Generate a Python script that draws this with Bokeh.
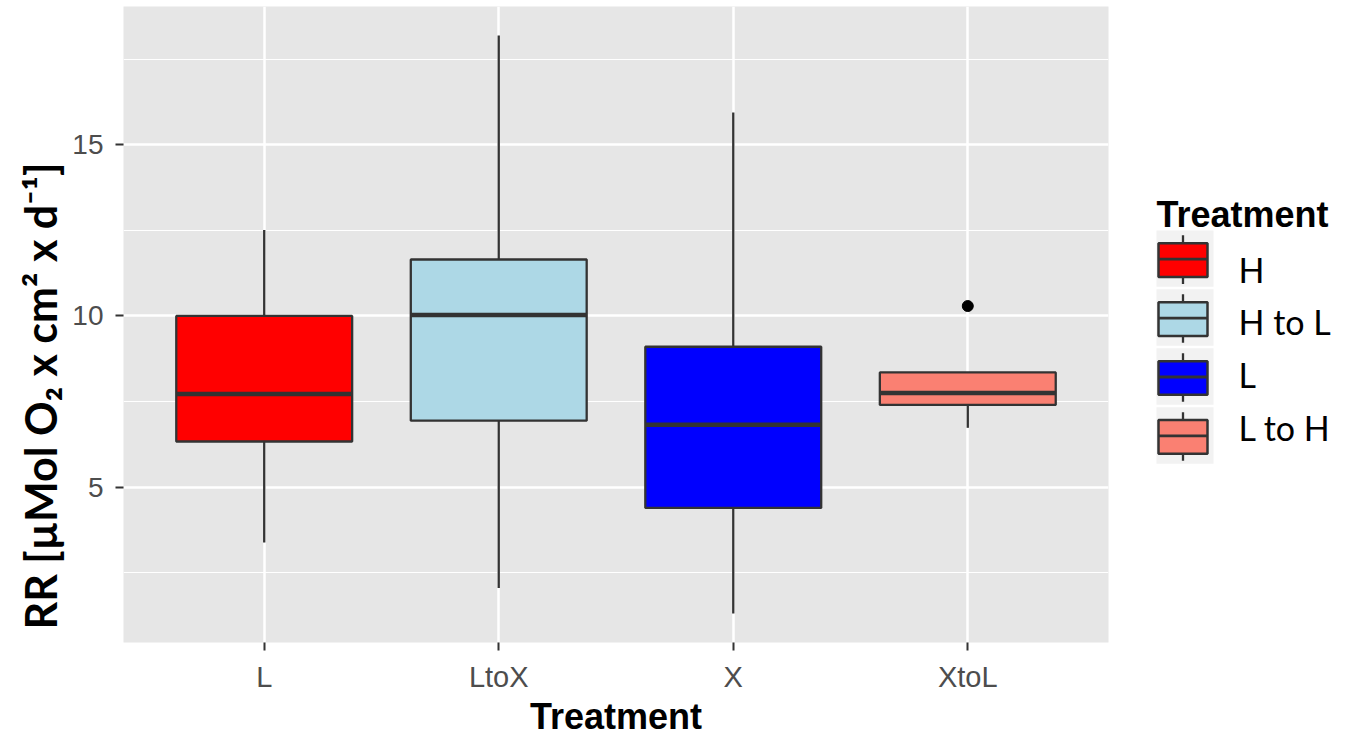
from bokeh.plotting import figure
from bokeh.models import Range1d, FixedTicker, Label, ColumnDataSource, Title
from bokeh.layouts import row
from bokeh.core.properties import value
from bokeh.embed import file_html
from bokeh.resources import INLINE

# ---------------- data ----------------
categories = ["L", "LtoX", "X", "XtoL"]
q1 = [6.33, 6.94, 4.39, 7.40]
median = [7.72, 10.03, 6.82, 7.75]
q3 = [10.00, 11.65, 9.10, 8.35]
lower = [3.38, 2.05, 1.30, 6.73]
upper = [12.51, 18.20, 15.95, 8.35]
outlier_cat = ["XtoL"]
outlier_val = [10.29]
fill_colors = ["#FF0000", "#ADD8E6", "#0000FF", "#FA8072"]
legend_labels = ["H", "H to L", "L", "L to H"]
y_ticks = [5, 10, 15]
y_minor = [2.5, 7.5, 12.5, 17.5]

# ---------------- layout constants ----------------
W1, H = 1110, 739
BL, BR, BT, BB = 123, 2, 6, 91
PANEL = "#E6E6E6"
EDGE = "#333333"
BOXW = 0.75

xs = [i + 1 for i in range(len(categories))]
x_start, x_end = 0.4, len(categories) + 0.6
lo = min(lower)
hi = max(upper + outlier_val)
pad = 0.05 * (hi - lo)
y_start, y_end = lo - pad, hi + pad

p = figure(width=W1, height=H, output_backend="svg", toolbar_location=None,
           x_range=Range1d(x_start, x_end), y_range=Range1d(y_start, y_end),
           min_border_left=BL, min_border_right=BR, min_border_top=BT,
           min_border_bottom=BB)
p.background_fill_color = PANEL
p.border_fill_color = "white"
p.outline_line_color = None

p.xaxis.ticker = FixedTicker(ticks=xs)
p.xaxis.major_label_overrides = {x: c for x, c in zip(xs, categories)}
p.yaxis.ticker = FixedTicker(ticks=y_ticks, minor_ticks=y_minor)
for ax in (p.xaxis[0], p.yaxis[0]):
    ax.axis_line_color = None
    ax.major_tick_line_color = EDGE
    ax.major_tick_line_width = 2
    ax.major_tick_out = 8
    ax.major_tick_in = 0
    ax.minor_tick_line_color = None
    ax.major_label_text_color = "#4D4D4D"
    ax.major_label_text_font = "Liberation Sans"
p.xaxis.major_label_text_font_size = "29px"
p.yaxis.major_label_text_font_size = "28px"
p.xaxis.major_label_standoff = 10
p.yaxis.major_label_standoff = 12

p.xaxis.axis_label = "Treatment"
p.xaxis.axis_label_text_font = "Liberation Sans"
p.xaxis.axis_label_text_font_style = "bold"
p.xaxis.axis_label_text_font_size = "36px"
p.xaxis.axis_label_text_color = "black"
p.xaxis.axis_label_standoff = 0

p.xgrid.grid_line_color = "white"
p.xgrid.grid_line_width = 2.5
p.ygrid.grid_line_color = "white"
p.ygrid.grid_line_width = 2.5
p.ygrid.minor_grid_line_color = "white"
p.ygrid.minor_grid_line_width = 1.2

src = ColumnDataSource(dict(x=xs, q1=q1, med=median, q3=q3, lo=lower, hi=upper,
                            color=fill_colors,
                            xl=[x - BOXW / 2 for x in xs],
                            xr=[x + BOXW / 2 for x in xs]))
p.segment(x0="x", y0="q3", x1="x", y1="hi", source=src, line_color=EDGE, line_width=2.3)
p.segment(x0="x", y0="q1", x1="x", y1="lo", source=src, line_color=EDGE, line_width=2.3)
p.vbar(x="x", width=BOXW, bottom="q1", top="q3", source=src,
       fill_color="color", line_color=EDGE, line_width=2.3)
p.segment(x0="xl", y0="med", x1="xr", y1="med", source=src, line_color=EDGE, line_width=4.5)
p.scatter(x=[xs[categories.index(c)] for c in outlier_cat], y=outlier_val,
          size=11, color="black")

# y axis title, set lower than centre as in the reference
p.add_layout(Title(text="RR [µMol O₂ x cm² x d⁻¹]", align="left", offset=13,
                   text_font="Lato", text_font_style="bold",
                   text_font_size="43px", text_color="black", standoff=8), "left")

# ---------------- legend panel ----------------
W2 = 1349 - W1
lg = figure(width=W2, height=H, output_backend="svg", toolbar_location=None,
            x_range=Range1d(0, W2), y_range=Range1d(H - BB, BT),
            x_axis_location=None, y_axis_location=None,
            min_border_left=0, min_border_right=0, min_border_top=BT, min_border_bottom=BB)
lg.grid.visible = False
lg.outline_line_color = None
lg.background_fill_color = "white"
lg.border_fill_color = "white"

KX0, KX1 = 46, 103
BX0, BX1 = 48, 97
KTOP, KSTEP, KH = 232, 59.5, 57
LTOP, LSTEP = 271, 53.2
n = len(legend_labels)
kt = [KTOP + KSTEP * i for i in range(n)]
kx = (BX0 + BX1) / 2
lsrc = ColumnDataSource(dict(top=kt, bottom=[t + KH for t in kt], color=fill_colors,
                             btop=[t + 13 for t in kt], bbot=[t + 47 for t in kt],
                             med=[t + 29 for t in kt],
                             wtop=[t + 5 for t in kt], wbot=[t + 54 for t in kt],
                             ly=[LTOP + LSTEP * i for i in range(n)],
                             label=legend_labels))
lg.quad(left=KX0, right=KX1, top="top", bottom="bottom", source=lsrc,
        fill_color="#F2F2F2", line_color=None)
lg.segment(x0=kx, x1=kx, y0="wtop", y1="wbot", source=lsrc, line_color=EDGE, line_width=2.3)
lg.quad(left=BX0, right=BX1, top="btop", bottom="bbot", source=lsrc,
        fill_color="color", line_color=EDGE, line_width=2.5)
lg.segment(x0=BX0, x1=BX1, y0="med", y1="med", source=lsrc, line_color=EDGE, line_width=2.8)
lg.text(x=128, y="ly", text="label", source=lsrc, text_baseline="middle",
        text_font=value("Lato"), text_font_size=value("34px"), text_color="black")
lg.add_layout(Label(x=46, y=216, text="Treatment", text_baseline="alphabetic",
                    text_font="Liberation Sans", text_font_style="bold",
                    text_font_size="36px", text_color="black"))

layout = row(p, lg)
open("out.html", "w").write(file_html(layout, INLINE))
